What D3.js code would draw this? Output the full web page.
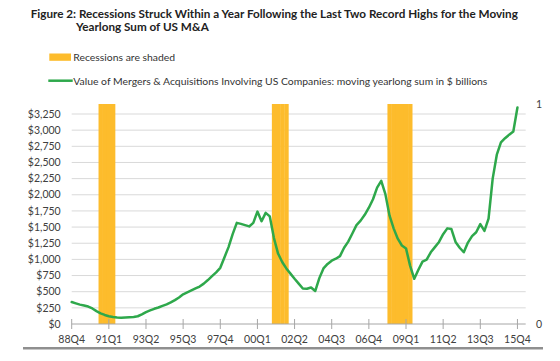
<!DOCTYPE html>
<html>
<head>
<meta charset="utf-8">
<script src="https://cdn.jsdelivr.net/npm/d3@7/dist/d3.min.js"></script>
<style>
  html, body { margin: 0; padding: 0; background: #ffffff; overflow: hidden; }
  svg { display: block; font-family: Lato, "Open Sans", sans-serif; }
</style>
</head>
<body>
<svg id="chart" width="560" height="361"></svg>
<script>
// ---------- DATA ----------
const titleLines = [
  "Figure 2: Recessions Struck Within a Year Following the Last Two Record Highs for the Moving",
  "Yearlong Sum of US M&A"
];
const legendRecession = "Recessions are shaded";
const legendLine = "Value of Mergers & Acquisitions Involving US Companies: moving yearlong sum in $ billions";

const firstQuarter = { year: 1988, q: 4 };
// quarterly moving yearlong sum of US M&A, $ billions, 88Q4 .. 15Q4
const mnaValues = [
  340, 320, 300, 285, 270, 240, 200, 165, 140, 120,
  108, 100, 96, 100, 105, 110, 120, 150, 185, 210,
  235, 255, 280, 305, 335, 370, 410, 460, 490, 520,
  550, 580, 625, 680, 740, 800, 870, 1030, 1190, 1390,
  1565, 1550, 1530, 1510, 1565, 1740, 1590, 1720, 1665, 1330,
  1090, 960, 860, 780, 700, 625, 550, 545, 565, 510,
  710, 860, 930, 980, 1010, 1050, 1180, 1275, 1400, 1530,
  1600, 1690, 1800, 1930, 2110, 2215, 2010, 1680, 1480, 1320,
  1215, 1170, 900, 700, 840, 965, 995, 1110, 1190, 1270,
  1390, 1480, 1470, 1270, 1180, 1110, 1260, 1360, 1420, 1545,
  1440, 1630, 2250, 2620, 2810, 2875, 2930, 2980, 3350
];
const recessionQuarters = [
  "90Q3", "90Q4", "91Q1", "91Q2",
  "01Q1", "01Q2", "01Q3", "01Q4",
  "08Q1", "08Q2", "08Q3", "08Q4", "09Q1", "09Q2"
];
const xTickLabels = ["88Q4","91Q1","93Q2","95Q3","97Q4","00Q1","02Q2","04Q3","06Q4","09Q1","11Q2","13Q3","15Q4"];
const yTickValues = [0, 250, 500, 750, 1000, 1250, 1500, 1750, 2000, 2250, 2500, 2750, 3000, 3250];
const y2TickValues = [0, 1];

// quarter labels for each data point
const quarters = mnaValues.map((_, i) => {
  const n = firstQuarter.year * 4 + (firstQuarter.q - 1) + i;
  const yr = Math.floor(n / 4), q = (n % 4) + 1;
  return String(yr % 100).padStart(2, "0") + "Q" + q;
});
const qIndex = new Map(quarters.map((q, i) => [q, i]));

// ---------- LAYOUT ----------
const svg = d3.select("#chart");
const colors = { line: "#2ea84b", rec: "#fdbc2c", grid: "#d9d9d9", axis: "#a6a6a6", text: "#404040" };

const x = d3.scaleLinear().domain([0, 110]).range([71.7, 525.7]);
const y = d3.scaleLinear().domain([0, 3250]).range([324, 114]);
const y2 = d3.scaleLinear().domain([0, 1]).range([324, 104]);

// title
svg.append("text").attr("x", 30.7).attr("y", 17.5)
  .attr("font-size", 11.7).attr("font-weight", "bold").attr("fill", "#222")
  .text(titleLines[0]);
svg.append("text").attr("x", 76).attr("y", 31)
  .attr("font-size", 11.7).attr("font-weight", "bold").attr("fill", "#222")
  .text(titleLines[1]);

// legend
svg.append("rect").attr("x", 49.3).attr("y", 53.5).attr("width", 21.7).attr("height", 7.3).attr("fill", colors.rec);
svg.append("text").attr("x", 73.3).attr("y", 60.8).attr("font-size", 10.4).attr("fill", "#333").text(legendRecession);
svg.append("line").attr("x1", 48.3).attr("x2", 72.7).attr("y1", 80.7).attr("y2", 80.7)
  .attr("stroke", colors.line).attr("stroke-width", 2.5);
svg.append("text").attr("x", 73.3).attr("y", 84.6).attr("font-size", 10.4).attr("fill", "#333").text(legendLine);

// gridlines
svg.append("g").selectAll("line").data(yTickValues.filter(v => v > 0)).join("line")
  .attr("x1", x(0)).attr("x2", x(110)).attr("y1", d => y(d)).attr("y2", d => y(d))
  .attr("stroke", colors.grid).attr("stroke-width", 1);

// recession bars
svg.append("g").selectAll("rect").data(recessionQuarters).join("rect")
  .attr("x", d => x(qIndex.get(d) - 0.5))
  .attr("width", x(1) - x(0) + 0.3)
  .attr("y", y2(1)).attr("height", y2(0) - y2(1))
  .attr("fill", colors.rec);

// x axis
const xAxisG = svg.append("g").attr("transform", "translate(0,324)");
xAxisG.append("line").attr("x1", x(0)).attr("x2", x(110)).attr("stroke", colors.axis).attr("stroke-width", 1);
xAxisG.selectAll(".tick").data(xTickLabels).join("line")
  .attr("x1", d => x(qIndex.get(d))).attr("x2", d => x(qIndex.get(d)))
  .attr("y1", -5).attr("y2", 5).attr("stroke", colors.axis);
xAxisG.selectAll("text").data(xTickLabels).join("text")
  .attr("x", d => x(qIndex.get(d))).attr("y", 19)
  .attr("text-anchor", "middle").attr("font-size", 10.5).attr("fill", colors.text)
  .text(d => d);

// y axis labels
const fmt = d3.format("$,.0f");
svg.append("g").selectAll("text").data(yTickValues).join("text")
  .attr("x", 60.7).attr("y", d => y(d)).attr("dy", "0.35em")
  .attr("text-anchor", "end").attr("font-size", 10.5).attr("fill", colors.text)
  .text(d => fmt(d));

// secondary axis labels
svg.append("g").selectAll("text").data(y2TickValues).join("text")
  .attr("x", 539).attr("y", d => y2(d)).attr("dy", "0.35em")
  .attr("text-anchor", "middle").attr("font-size", 10.5).attr("fill", colors.text)
  .text(d => d);

// line
const line = d3.line().x((d, i) => x(i)).y(d => y(d)).curve(d3.curveLinear);
svg.append("path").datum(mnaValues).attr("d", line)
  .attr("fill", "none").attr("stroke", colors.line).attr("stroke-width", 2.5)
  .attr("stroke-linejoin", "round").attr("stroke-linecap", "round");

// bottom rule
svg.append("rect").attr("x", 23).attr("y", 347).attr("width", 520).attr("height", 2.5)
  .attr("fill", "#8f8f8f");
</script>
</body>
</html>
